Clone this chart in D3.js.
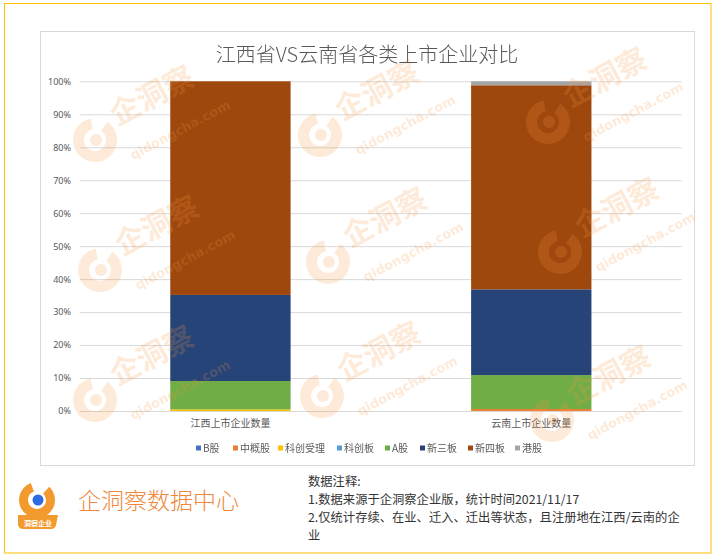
<!DOCTYPE html>
<html><head><meta charset="utf-8">
<script src="https://cdn.jsdelivr.net/npm/d3@7"></script>
<style>
html,body{margin:0;padding:0;background:#fff;}
svg{display:block;font-family:"Noto Sans CJK SC","Microsoft YaHei",sans-serif;}
</style></head>
<body><svg id="c" width="719" height="559"></svg>
<script>
const title = "江西省VS云南省各类上市企业对比";
const categories = ["江西上市企业数量", "云南上市企业数量"];
const seriesNames = ["B股", "中概股", "科创受理", "科创板", "A股", "新三板", "新四板", "港股"];
const seriesColors = ["#4472C4", "#ED7D31", "#FFC000", "#5B9BD5", "#70AD47", "#264478", "#9E480E", "#A5A5A5"];
// share (%) of each series for each category
const vB = [0, 0];
const vZhongGai = [0, 0.6];
const vKeChuangShouLi = [0.5, 0];
const vKeChuangBan = [0, 0];
const vA = [8.6, 10.3];
const vXinSan = [26.1, 26.0];
const vXinSi = [64.8, 61.9];
const vGang = [0, 1.2];
const yTicks = [0, 0.1, 0.2, 0.3, 0.4, 0.5, 0.6, 0.7, 0.8, 0.9, 1];
const notes = ["数据注释:", "1.数据来源于企洞察企业版，统计时间2021/11/17", "2.仅统计存续、在业、迁入、迁出等状态，且注册地在江西/云南的企", "业"];

const seriesValues = [vB, vZhongGai, vKeChuangShouLi, vKeChuangBan, vA, vXinSan, vXinSi, vGang];
const table = categories.map((c, i) => {
  const row = {cat: c};
  seriesNames.forEach((s, j) => row[s] = seriesValues[j][i]);
  return row;
});

const svg = d3.select("#c");
svg.append("rect").attr("x", 4.5).attr("y", 3.5).attr("width", 706.5).attr("height", 549.5)
  .attr("fill", "#fff").attr("stroke", "#FFC000").attr("stroke-width", 1);
svg.append("rect").attr("x", 40.5).attr("y", 31.5).attr("width", 654).attr("height", 434)
  .attr("fill", "#fff").attr("stroke", "#D9D9D9").attr("stroke-width", 1);

const x = d3.scaleBand().domain(categories).range([80, 681.7]).paddingInner(0.6).paddingOuter(0.3);
const y = d3.scaleLinear().domain([0, 1]).range([411, 81.3]);

const yAxis = d3.axisLeft(y).tickValues(yTicks).tickFormat(d3.format(".0%")).tickSize(-601.7).tickPadding(9);
const ga = svg.append("g").attr("transform", "translate(80,0)").call(yAxis);
ga.select(".domain").remove();
ga.selectAll(".tick line").attr("stroke", "#D9D9D9").attr("stroke-width", 1);
ga.selectAll(".tick text").attr("fill", "#595959").style("font-size", "9px").style("font-family", "'Noto Sans','DejaVu Sans',sans-serif");

const stack = d3.stack().keys(seriesNames).offset(d3.stackOffsetExpand);
const stacked = stack(table);
const bars = svg.append("g");
stacked.forEach((layer, j) => {
  bars.append("g").attr("fill", seriesColors[j]).selectAll("rect").data(layer).join("rect")
    .attr("x", d => x(d.data.cat))
    .attr("width", x.bandwidth())
    .attr("y", d => y(d[1]))
    .attr("height", d => Math.max(0, y(d[0]) - y(d[1])));
});

const xAxis = d3.axisBottom(x).tickSize(0).tickPadding(9);
const gx = svg.append("g").attr("transform", "translate(0,411)").call(xAxis);
gx.select(".domain").remove();
gx.selectAll(".tick text").attr("fill", "#595959").style("font-size", "10px").style("font-family", "'Noto Sans CJK SC',sans-serif");

// watermarks
const wm = svg.append("g").attr("opacity", 0.2).attr("fill", "#F7953F").attr("pointer-events", "none");
const wmPos = [[95,140],[320,135],[548,122],[100,270],[328,262],[560,252],[95,400],[322,396],[552,420]];
wmPos.forEach(([cx, cy]) => {
  const g = wm.append("g").attr("transform", `translate(${cx},${cy})`);
  g.append("path").attr("d", d3.arc()({innerRadius: 11, outerRadius: 22, startAngle: 0.6, endAngle: 2 * Math.PI - 0.2}));
  g.append("circle").attr("r", 6).attr("cx", 1).attr("cy", 0);
  g.append("text").attr("transform", "translate(22,-14) rotate(-28)").style("font-size", "30px").style("font-weight", "bold").text("企洞察");
  g.append("text").attr("transform", "translate(38,20) rotate(-28)").style("font-size", "13px").style("font-weight", "bold").style("font-family", "'DejaVu Sans',sans-serif").text("qidongcha.com");
});

svg.append("text").attr("x", 367).attr("y", 62).attr("text-anchor", "middle").attr("fill", "#595959")
  .style("font-size", "20px").style("font-weight", "300").text(title);

const legX = [196, 233, 278, 337, 385, 420, 468, 515];
const leg = svg.append("g");
seriesNames.forEach((s, j) => {
  leg.append("rect").attr("x", legX[j]).attr("y", 445.5).attr("width", 5).attr("height", 5).attr("fill", seriesColors[j]);
  leg.append("text").attr("x", legX[j] + 7).attr("y", 452).attr("fill", "#595959").style("font-size", "10px").text(s);
});

const logo = svg.append("g").attr("transform", "translate(37,500)");
logo.append("path").attr("d", d3.arc()({innerRadius: 9, outerRadius: 18, startAngle: 0.75, endAngle: 2 * Math.PI - 0.35})).attr("fill", "#F39A2E");
logo.append("circle").attr("r", 5.5).attr("cx", 1).attr("cy", 0).attr("fill", "#2F6BE0");
logo.append("path").attr("d", "M-19,15 L21,15 L19,25 Q18,29 14,29 L-14,29 Q-18,29 -19,25 Z").attr("fill", "#F39A2E");
logo.append("text").attr("x", 1).attr("y", 25.5).attr("text-anchor", "middle").attr("fill", "#fff").style("font-size", "7px").style("font-weight", "bold").text("洞察企业");

svg.append("text").attr("x", 78).attr("y", 509).attr("fill", "#F0873A").style("font-size", "23px").style("font-weight", "300").text("企洞察数据中心");

const nt = svg.append("g");
notes.forEach((t, i) => {
  nt.append("text").attr("x", 308).attr("y", 486 + i * 18).attr("fill", "#333").style("font-size", "12.3px").text(t);
});
</script></body></html>
